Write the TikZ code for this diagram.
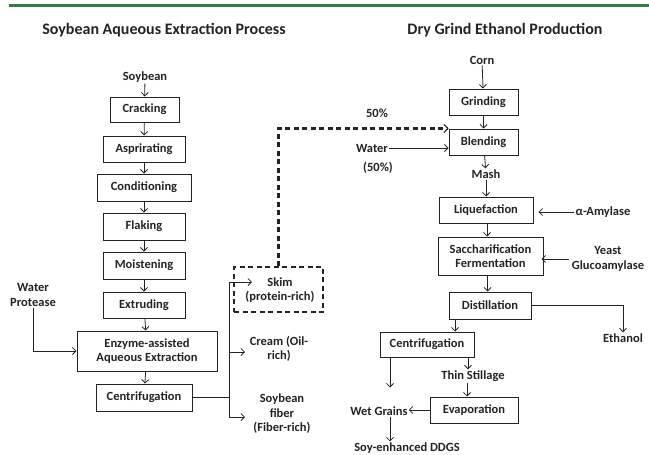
\documentclass[tikz,border=0pt]{standalone}
\usepackage{fontspec}
\setmainfont{Carlito}
\usetikzlibrary{arrows.meta}
\definecolor{topgreen}{RGB}{58,125,68}
\definecolor{ink}{RGB}{35,35,35}
\tikzset{
  box/.style={draw=ink, line width=1pt, inner sep=1pt, align=center, font=\bfseries\fontsize{12.5}{13.5}\selectfont, text=ink},
  lbl/.style={inner sep=1pt, align=center, font=\bfseries\fontsize{12.5}{14.5}\selectfont, text=ink},
  ttl/.style={inner sep=0pt, font=\bfseries\fontsize{16}{17}\selectfont, text=ink},
  arr/.style={draw=ink, line width=0.8pt, -{Straight Barb[length=3.5pt,width=7pt]}},
  ln/.style={draw=ink, line width=0.8pt},
  dsh/.style={draw=ink, line width=1.8pt, dash pattern=on 5pt off 3.5pt},
  dsharr/.style={draw=ink, line width=2.3pt, dash pattern=on 5pt off 3.5pt, -{Straight Barb[length=4pt,width=8pt,line width=1pt]}}
}
\begin{document}
\begin{tikzpicture}[x=1pt,y=-1pt]
\useasboundingbox (0,0) rectangle (649,455);
\fill[topgreen] (9,3.5) rectangle (649,6.5);

% titles
\node[ttl] (t1) at (164,30) {Soybean Aqueous Extraction Process};
\node[ttl] (t2) at (505,30) {Dry Grind Ethanol Production};

% left column
\node[lbl] (soy) at (145,77) {Soybean};
\node[box, minimum width=69pt, minimum height=25pt] (crack) at (144.5,109.5) {Cracking};
\node[box, minimum width=82pt, minimum height=26pt] (asp) at (144,149) {Asprirating};
\node[box, minimum width=94pt, minimum height=27pt] (cond) at (144,187.5) {Conditioning};
\node[box, minimum width=82pt, minimum height=27pt] (flak) at (144,226.5) {Flaking};
\node[box, minimum width=82pt, minimum height=27pt] (moist) at (144,265.5) {Moistening};
\node[box, minimum width=82pt, minimum height=26pt] (extr) at (144,305) {Extruding};
\node[box, minimum width=140pt, minimum height=40pt] (enz) at (147,351) {Enzyme-assisted\\Aqueous Extraction};
\node[box, minimum width=96pt, minimum height=27pt] (cent1) at (144,397.5) {Centrifugation};
\node[lbl] (wp) at (33,295) {Water\\Protease};

\draw[arr] (soy) -- (crack);
\draw[arr] (crack) -- (asp);
\draw[arr] (asp) -- (cond);
\draw[arr] (cond) -- (flak);
\draw[arr] (flak) -- (moist);
\draw[arr] (moist) -- (extr);
\draw[arr] (extr) -- (enz);
\draw[arr] (enz) -- (cent1);
\draw[arr] (wp.south) |- (enz.west);

% outputs
\node[box, dsh, minimum width=89pt, minimum height=45pt] (skim) at (278.5,289.5) {};
\node[lbl] (skimt) at (280,290) {Skim\\(protein-rich)};
\node[lbl] (cream) at (279,349) {Cream (Oil-\\rich)};
\node[lbl] (fiber) at (282,414) {Soybean\\fiber\\(Fiber-rich)};

\coordinate (jn) at (229,397.5);
\coordinate (jt) at (229,282);
\coordinate (jm) at (229,352);
\coordinate (jb) at (229,417);
\coordinate (skimin) at (252,282);
\draw[ln] (cent1.east) -- (jn);
\draw[ln] (jt) -- (jb);
\draw[arr] (jt) -- (skimin);
\draw[arr] (jm) -- (245,352);
\draw[arr] (jb) -- (245,417);

% right column
\node[lbl] (corn) at (482,60) {Corn};
\node[box, minimum width=69pt, minimum height=26pt] (grind) at (483.5,102) {Grinding};
\node[box, minimum width=69pt, minimum height=26pt] (blend) at (483.5,142) {Blending};
\node[lbl] (water) at (372,148) {Water};
\node[lbl] (w50) at (378,168) {(50\%)};
\node[lbl] (p50) at (377,113) {50\%};
\node[lbl] (mash) at (486,174) {Mash};
\node[box, minimum width=94pt, minimum height=26pt] (liq) at (486,210) {Liquefaction};
\node[lbl] (amyl) at (603,212) {α-Amylase};
\node[box, minimum width=105pt, minimum height=38pt] (sacch) at (490.5,256) {Saccharification\\Fermentation};
\node[lbl] (yeast) at (608,259) {Yeast\\Glucoamylase};
\node[box, minimum width=82pt, minimum height=27pt] (dist) at (490,305.5) {Distillation};
\node[lbl] (eth) at (623,338) {Ethanol};
\node[box, minimum width=94pt, minimum height=25pt] (cent2) at (427,344.5) {Centrifugation};
\node[lbl] (thin) at (473,376) {Thin Stillage};
\node[box, minimum width=88pt, minimum height=26pt] (evap) at (474,410) {Evaporation};
\node[lbl] (wet) at (379,411) {Wet Grains};
\node[lbl] (ddgs) at (407,448) {Soy-enhanced DDGS};

\draw[dsharr] (skim.north) |- (blend.north west);
\draw[arr] (corn) -- (grind);
\draw[arr] (grind) -- (blend);
\draw[arr] (water.east) -- (water.east -| blend.west);
\draw[arr] (blend) -- (mash);
\draw[arr] (mash) -- (liq);
\draw[arr, shorten >=5pt] (amyl.west) -- (amyl.west -| liq.east);
\draw[arr] ([xshift=1pt]liq.south) -- ([xshift=1pt]liq.south |- sacch.north);
\draw[arr] ([xshift=-2pt]yeast.west) -- ([xshift=-2pt]yeast.west -| sacch.east);
\draw[arr] ([xshift=-3pt]sacch.south) -- ([xshift=-3pt]sacch.south |- dist.north);
\draw[arr] (dist.east) -| (eth.north);
\coordinate (dl) at ([xshift=-35pt]dist.south);
\draw[arr] (dl) -- (dl |- cent2.north);
\coordinate (cl) at ([xshift=-37pt]cent2.south);
\coordinate (clend) at ([xshift=-37pt,yshift=-30pt]cent2.south);
\draw[arr] (cl) -- (clend);
\coordinate (cr) at ([xshift=41pt]cent2.south);
\draw[arr] (cr) -- (cr |- thin.north);
\coordinate (tl) at ([xshift=-6pt]thin.south);
\draw[arr] (tl) -- (tl |- evap.north);
\draw[arr] (evap.west) -- (evap.west -| wet.east);
\coordinate (ws) at ([xshift=11pt]wet.south);
\draw[arr] (ws) -- (ws |- ddgs.north);
\end{tikzpicture}
\end{document}
